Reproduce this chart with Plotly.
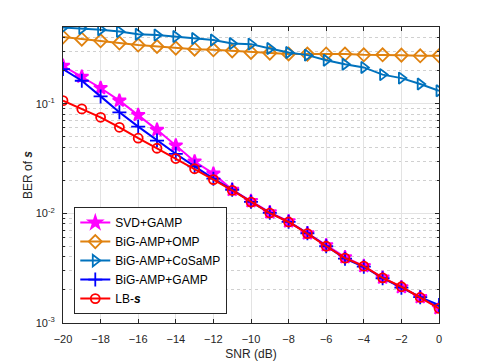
import plotly.graph_objects as go

# SNR grid (dB)
snr = list(range(-20, 1))

# BER values
ber_svd_gamp = [0.2215, 0.176, 0.1389, 0.1065, 0.0789, 0.0577, 0.0415, 0.0297, 0.0230, 0.0164,
                0.01294, 0.01021, 0.00846, 0.00658, 0.00512, 0.00398, 0.00330, 0.00259, 0.00212,
                0.00172, 0.00137]
ber_bigamp_omp = [0.406, 0.387, 0.374, 0.357, 0.342, 0.332, 0.321, 0.314, 0.310, 0.303,
                  0.293, 0.289, 0.284, 0.283, 0.284, 0.283, 0.279, 0.279, 0.277, 0.273, 0.273]
ber_bigamp_cosamp = [0.494, 0.484, 0.473, 0.454, 0.430, 0.422, 0.409, 0.393, 0.380, 0.353,
                     0.349, 0.318, 0.293, 0.277, 0.249, 0.229, 0.214, 0.184, 0.171, 0.151, 0.131]
ber_bigamp_gamp = [0.2067, 0.1618, 0.1165, 0.0834, 0.0618, 0.0461, 0.0349, 0.0268, 0.0207, 0.0164,
                   0.01272, 0.0101, 0.00837, 0.00658, 0.00501, 0.00386, 0.00326, 0.00256, 0.0021,
                   0.00172, 0.00146]
ber_lb_s = [0.1065, 0.0895, 0.0751, 0.0609, 0.0484, 0.0392, 0.0316, 0.0255, 0.0203, 0.0162,
            0.01267, 0.01006, 0.00834, 0.00654, 0.00501, 0.00390, 0.00330, 0.00258, 0.00214,
            0.00171, 0.00136]

x_ticks = list(range(-20, 1, 2))
y_ticks = [1e-3, 1e-2, 1e-1]
y_labels = ["10<sup>-3</sup>", "10<sup>-2</sup>", "10<sup>-1</sup>"]

series = [
    ("SVD+GAMP", ber_svd_gamp, "#FF00FF", "star", 10),
    ("BiG-AMP+OMP", ber_bigamp_omp, "#E0820F", "diamond-open", 10),
    ("BiG-AMP+CoSaMP", ber_bigamp_cosamp, "#0072BD", "triangle-right-open", 10),
    ("BiG-AMP+GAMP", ber_bigamp_gamp, "#0000FF", "cross-thin-open", 10),
    ("LB-<b><i>s</i></b>", ber_lb_s, "#FF0000", "circle-open", 9),
]

fig = go.Figure()
for name, y, color, sym, size in series:
    fig.add_trace(go.Scatter(
        x=snr, y=y, name=name, mode="lines+markers",
        line=dict(color=color, width=2),
        marker=dict(symbol=sym, size=size, color=color,
                    line=dict(color=color, width=1.8)),
    ))

axis_line = "#262626"
fig.update_layout(
    width=485, height=363,
    margin=dict(l=63, r=46, t=27, b=40),
    paper_bgcolor="white", plot_bgcolor="white",
    font=dict(family="Liberation Sans, Arial, sans-serif", size=11, color="#262626"),
    showlegend=True,
    legend=dict(
        x=0.03, y=0.03, xanchor="left", yanchor="bottom",
        bgcolor="white", bordercolor="#262626", borderwidth=1,
        font=dict(size=12, color="black"),
        tracegroupgap=0, itemwidth=30,
    ),
)
fig.update_xaxes(
    range=[-20, 0], tickvals=x_ticks, automargin=False,
    title=dict(text="SNR (dB)", font=dict(size=12), standoff=5),
    showgrid=True, gridcolor="#E3E3E3", gridwidth=1,
    showline=True, linecolor=axis_line, linewidth=1, mirror="allticks",
    ticks="inside", ticklen=4, tickcolor=axis_line, ticklabelstandoff=6,
    zeroline=False,
)
fig.update_yaxes(
    type="log", range=[-3, -0.301], automargin=False,
    tickvals=y_ticks, ticktext=y_labels,
    title=dict(text="BER of <b><i>s</i></b>", font=dict(size=12), standoff=0),
    showgrid=True, gridcolor="#E3E3E3", gridwidth=1,
    showline=True, linecolor=axis_line, linewidth=1, mirror="allticks",
    ticks="inside", ticklen=4, tickcolor=axis_line, ticklabelstandoff=5,
    minor=dict(dtick="D1", showgrid=True, gridcolor="#D0D0D0", griddash="dot",
               ticks="inside", ticklen=2, tickcolor=axis_line),
    zeroline=False,
)

# drop the browser's default body margin so the figure sits at the page origin
fig.write_html("out.html", config={"displayModeBar": False},
               post_script="document.body.style.margin='0';")
